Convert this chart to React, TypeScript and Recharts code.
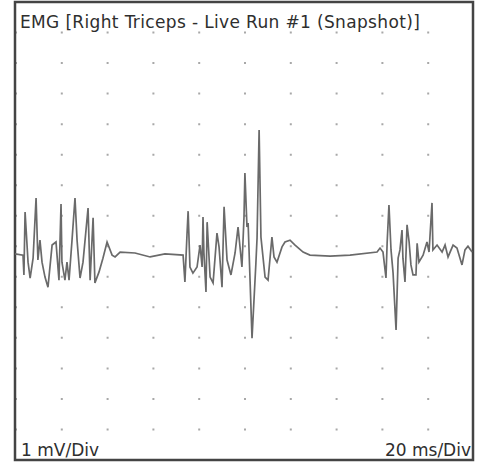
import { LineChart, Line, XAxis, YAxis, CartesianGrid, ReferenceArea } from "recharts";

// time in ms (20 ms / division), amplitude in mV (1 mV / division)
const times = [
  0, 3.5, 3.9, 4.4, 5.7, 6.6, 7.9, 9.2, 10.0, 10.9, 11.8, 13.1, 14.4, 16.2, 17.9, 19.2, 20.1, 20.5, 21.8, 22.7,
  23.6, 24.9, 26.2, 27.1, 28.4, 29.7, 31.9, 32.8, 34.1, 34.9, 36.7, 38.4, 40.2, 42.4, 43.7, 45.9, 52.4, 59.0, 65.5, 73.4,
  74.2, 75.1, 75.6, 76.4, 77.7, 79.5, 80.8, 81.7, 82.1, 82.5, 83.4, 83.9, 85.2, 86.5, 88.2, 89.1, 90.4, 91.3, 92.6, 94.3,
  96.1, 97.4, 99.1, 100.0, 100.4, 101.3, 101.8, 103.5, 105.2, 105.7, 106.6, 107.4, 109.2, 110.5, 112.2, 113.1, 114.4, 116.6, 117.9, 120.1,
  122.3, 125.8, 128.8, 137.6, 146.3, 158.1, 159.4, 160.7, 162.0, 162.5, 163.3, 164.2, 165.1, 166.4, 167.3, 168.1, 169.0, 169.4, 170.3, 171.2,
  172.1, 172.9, 173.8, 175.1, 175.6, 176.4, 178.2, 179.9, 180.8, 182.1, 182.5, 184.3, 186.5, 187.8, 189.1, 191.3, 193.0, 195.2, 196.5, 197.8,
  199.6,
];
const emg = [
  -0.25, -0.29, -0.94, 1.12, -0.52, -1.04, -0.39, 1.58, -0.45, 0.2, -0.52, -1.01, -1.34, 0.04, 0.14, -1.11, 1.38, -0.52, -1.11, -0.52,
  -1.11, 0.2, 1.58, 0.2, -1.04, -0.52, 1.25, -1.11, 0.93, -1.2, -0.84, -0.39, 0.14, -0.29, -0.35, -0.19, -0.22, -0.35, -0.25, -0.29,
  -1.17, 0.37, 1.15, -0.68, -0.88, -0.68, 0.04, -0.68, 0.96, -0.22, -1.5, 0.79, -1.01, -1.2, 0.43, -0.02, -1.34, 1.29, -0.45, -0.94,
  -0.22, 0.63, -0.68, 0.96, 2.4, 0.63, 0.76, -3.01, -0.55, 0.27, 3.81, 0.3, -1.01, -1.11, 0.3, -0.35, -0.52, -0.02, 0.14, 0.2,
  0.04, -0.19, -0.29, -0.32, -0.29, -0.19, -0.06, -0.19, -1.04, 0.1, 1.35, -0.12, -0.88, -2.74, -0.39, -0.12, 0.53, -0.39, -1.17, 0.7,
  0.14, -0.61, -0.94, -0.94, 0.1, -0.52, -0.29, 0.14, -0.19, 1.42, -0.12, 0.04, -0.19, 0.04, -0.35, 0.04, -0.06, -0.61, -0.12, 0,
  -0.19,
];
const gridTicks = [-6, -5, -4, -3, -2, -1, 0, 1, 2, 3, 4, 5, 6, 7];

const data = times.map((t, i) => ({ t, v: emg[i] }));

const textStyle: React.CSSProperties = {
  position: "absolute",
  fontFamily: "'DejaVu Sans', Verdana, sans-serif",
  fontSize: 17,
  lineHeight: "20px",
  color: "#2e2e2e",
  whiteSpace: "nowrap",
};

export default function App() {
  return (
    <div style={{ position: "absolute", left: 0, top: 0, width: 482, height: 468, background: "#fff" }}>
      <LineChart width={482} height={468} data={data} margin={{ top: 2, right: 9, bottom: 8, left: 15 }}>
        <XAxis type="number" dataKey="t" domain={[0, 200]} hide />
        <YAxis type="number" domain={[-7, 8]} ticks={gridTicks} hide />
        <CartesianGrid vertical={false} stroke="#a8a8a8" strokeWidth={2} strokeDasharray="2 43.8" />
        <Line
          dataKey="v"
          type="linear"
          stroke="#6a6a6a"
          strokeWidth={1.7}
          dot={false}
          isAnimationActive={false}
        />
        <ReferenceArea x1={0} x2={200} y1={-7} y2={8} fill="none" stroke="#444" strokeWidth={2.5} />
      </LineChart>
      <div style={{ ...textStyle, left: 20, top: 12, letterSpacing: 0.35 }}>
        EMG [Right Triceps - Live Run #1 (Snapshot)]
      </div>
      <div style={{ ...textStyle, left: 21, top: 440 }}>1 mV/Div</div>
      <div style={{ ...textStyle, right: 11, top: 440 }}>20 ms/Div</div>
    </div>
  );
}
